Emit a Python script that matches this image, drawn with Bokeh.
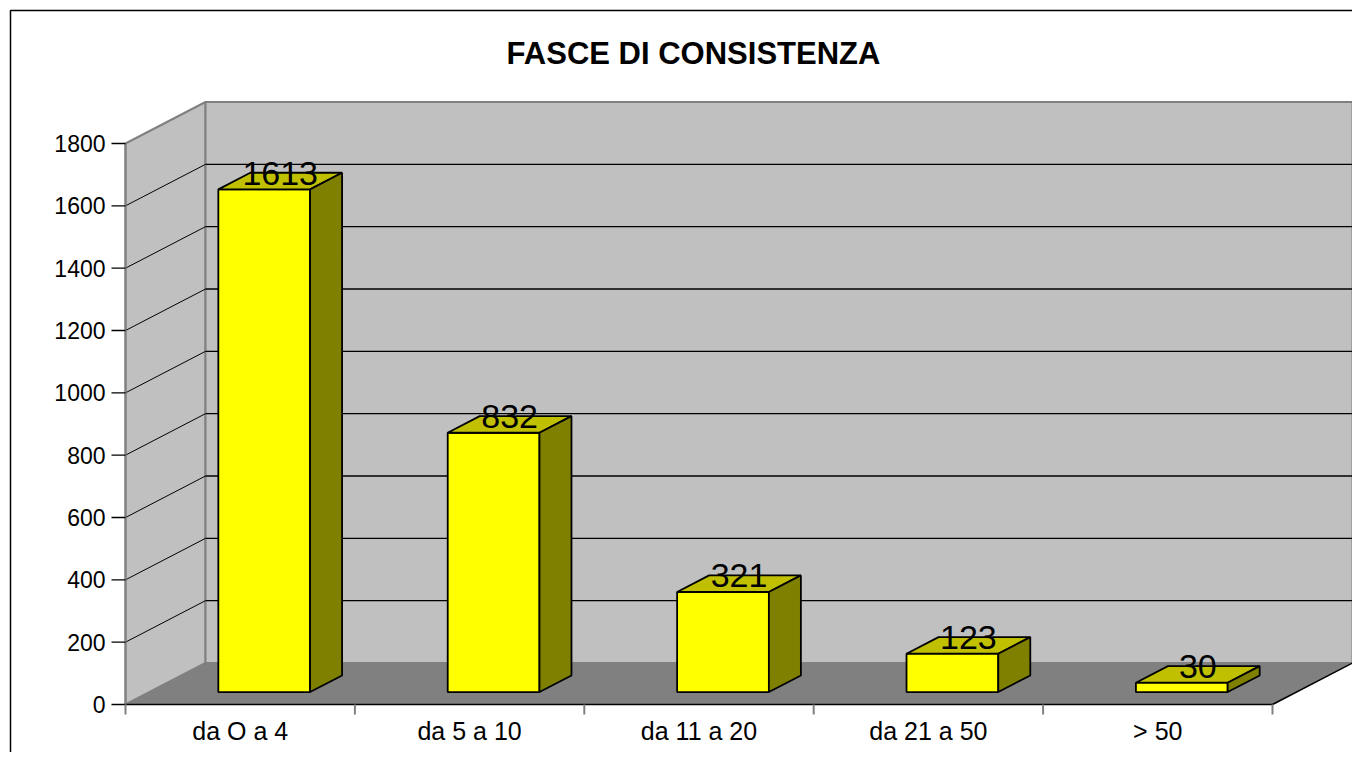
from bokeh.plotting import figure
from bokeh.models import Range1d
from bokeh.core.properties import value
from bokeh.embed import file_html
from bokeh.resources import INLINE

# ---------------- data ----------------
title_text = "FASCE DI CONSISTENZA"
categories = ["da O a 4", "da 5 a 10", "da 11 a 20", "da 21 a 50", "> 50"]
counts = [1613, 832, 321, 123, 30]
y_ticks = [0, 200, 400, 600, 800, 1000, 1200, 1400, 1600, 1800]
y_max = 1800

# ---------------- layout / style ----------------
W, H = 1352, 752
PAGE = 0
AX_LEFT, AX_RIGHT = 125, 1272       # page px of category axis ends
AX_ZERO, AX_TOP = 704, 143          # page px of value 0 and y_max
DEPTH_X, DEPTH_Y = 80, 41.5         # oblique depth of the 3D box (px)
BAR_W = 0.4
BAR_D0, BAR_D1 = 0.3, 0.7           # bar depth span (fraction of box depth)
FONT = value("Liberation Sans")

n = len(categories)
cat_px = (AX_RIGHT - AX_LEFT) / n
val_px = (AX_ZERO - AX_TOP) / y_max


def xd(X):
    return (X - AX_LEFT) / cat_px


def yd(Y):
    return (AX_ZERO - Y) / val_px


DX = DEPTH_X / cat_px
DY = DEPTH_Y / val_px

p = figure(width=W, height=H,
           x_range=Range1d(xd(PAGE), xd(PAGE + W)),
           y_range=Range1d(yd(PAGE + H), yd(PAGE)),
           output_backend="svg", toolbar_location=None,
           x_axis_type=None, y_axis_type=None, min_border=0)
p.outline_line_color = None
p.background_fill_color = "white"
p.border_fill_color = "white"

# chart border
p.quad(left=[xd(10)], right=[xd(1420)], top=[yd(10)], bottom=[yd(820)],
       fill_color=None, line_color="black", line_width=1.5)

# left side wall
p.patch([0, DX, DX, 0], [0, DY, y_max + DY, y_max],
        fill_color="#C0C0C0", line_color="#808080", line_width=2)
# back wall
p.quad(left=[DX], right=[n + DX], bottom=[DY], top=[y_max + DY],
       fill_color="#C0C0C0", line_color="#808080", line_width=2)
# floor
p.patch([0, n, n + DX, DX], [0, 0, DY, DY],
        fill_color="#808080", line_color="#808080", line_width=1)

# gridlines
grid_vals = y_ticks[1:-1]
p.segment(x0=[DX] * len(grid_vals), y0=[v + DY for v in grid_vals],
          x1=[n + DX] * len(grid_vals), y1=[v + DY for v in grid_vals],
          line_color="black", line_width=1.3)
p.segment(x0=[0] * len(grid_vals), y0=grid_vals,
          x1=[DX] * len(grid_vals), y1=[v + DY for v in grid_vals],
          line_color="black", line_width=1)

# floor front & right edges
p.segment(x0=[0, n], y0=[0, 0], x1=[n, n + DX], y1=[0, DY],
          line_color="black", line_width=1.5)

# value axis line and ticks
p.segment(x0=[0], y0=[0], x1=[0], y1=[y_max], line_color="#808080", line_width=2)
tick_len_x = 14 / cat_px
p.segment(x0=[-tick_len_x] * len(y_ticks), y0=y_ticks,
          x1=[0] * len(y_ticks), y1=y_ticks, line_color="black", line_width=1.3)
p.text(x=[0] * len(y_ticks), y=y_ticks, text=[str(v) for v in y_ticks],
       x_offset=-20, text_align="right", text_baseline="middle",
       text_font=FONT, text_font_size="23px", text_color="black")

# category axis ticks & labels
bounds = list(range(n + 1))
tick_len_y = 10 / val_px
p.segment(x0=bounds, y0=[0] * len(bounds), x1=bounds, y1=[-tick_len_y] * len(bounds),
          line_color="#808080", line_width=2)
p.text(x=[i + 0.5 for i in range(n)], y=[0] * n, text=categories,
       y_offset=26, text_align="center", text_baseline="middle",
       text_font=FONT, text_font_size="25px", text_color="black")

# bars
half = BAR_W / 2
fl = [i + 0.5 - half + BAR_D0 * DX for i in range(n)]
fr = [i + 0.5 + half + BAR_D0 * DX for i in range(n)]
fb = BAR_D0 * DY
ddx = (BAR_D1 - BAR_D0) * DX
ddy = (BAR_D1 - BAR_D0) * DY

p.quad(left=fl, right=fr, bottom=[fb] * n, top=[v + fb for v in counts],
       fill_color="#FFFF00", line_color="black", line_width=1.8)
top_xs = [[l, r, r + ddx, l + ddx] for l, r in zip(fl, fr)]
top_ys = [[v + fb, v + fb, v + fb + ddy, v + fb + ddy] for v in counts]
p.patches(top_xs, top_ys, fill_color="#C0C000", line_color="black", line_width=1.8)
side_xs = [[r, r + ddx, r + ddx, r] for r in fr]
side_ys = [[fb, fb + ddy, v + fb + ddy, v + fb] for v in counts]
p.patches(side_xs, side_ys, fill_color="#808000", line_color="black", line_width=1.8)

# value labels
mid = (BAR_D0 + BAR_D1) / 2
p.text(x=[i + 0.5 + mid * DX for i in range(n)], y=[v + mid * DY for v in counts],
       text=[str(v) for v in counts], y_offset=-8,
       text_align="center", text_baseline="alphabetic",
       text_font=FONT, text_font_size="34px", text_color="black")

# title
p.text(x=[xd(693)], y=[yd(53)], text=[title_text],
       text_align="center", text_baseline="alphabetic",
       text_font=FONT, text_font_style="bold", text_font_size="31px", text_color="black")

open("out.html", "w").write(file_html(p, INLINE))
